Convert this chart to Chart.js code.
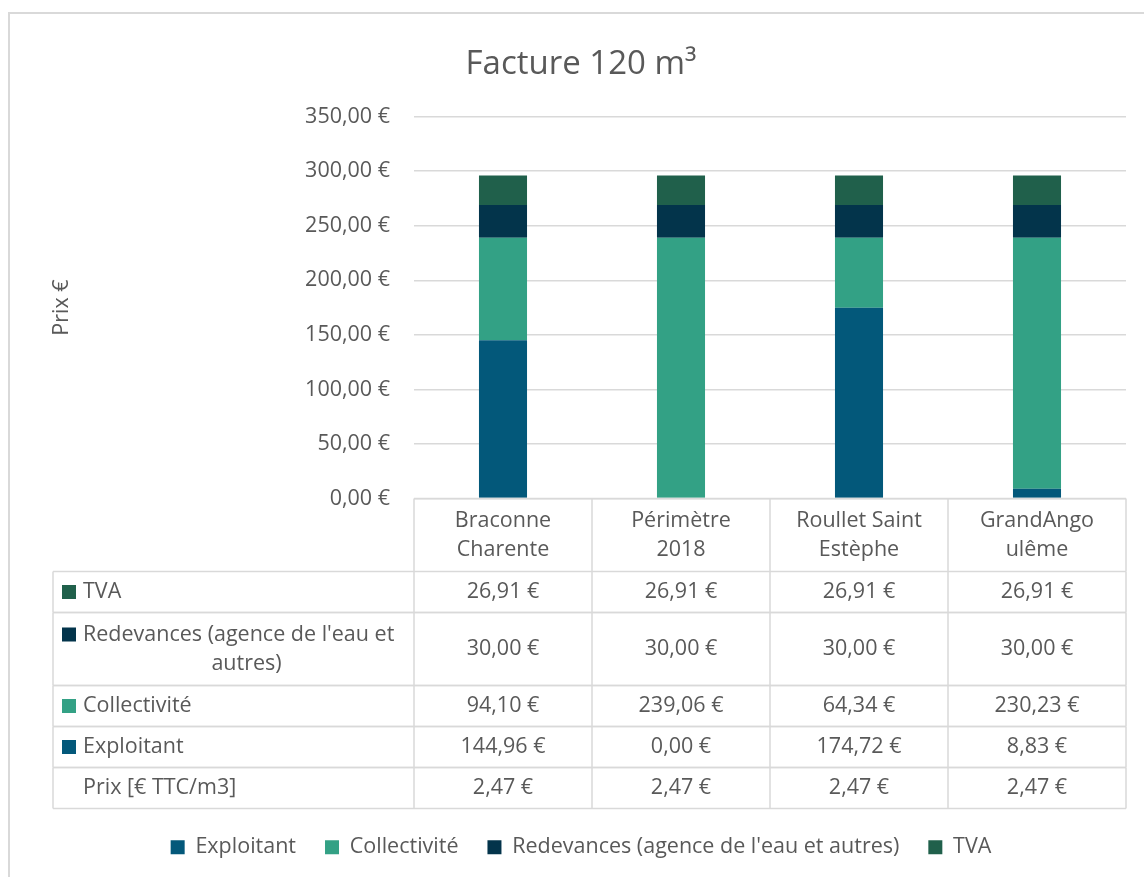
<!DOCTYPE html>
<html>
<head>
<meta charset="utf-8">
<script src="https://cdn.jsdelivr.net/npm/chart.js@4.4.0/dist/chart.umd.min.js"></script>
<style>
  html, body { margin: 0; padding: 0; background: #fff; }
  #wrap { width: 1144px; height: 877px; position: relative; }
</style>
</head>
<body>
<div id="wrap"><canvas id="chart"></canvas></div>
<script>
  // data
  const categories = [['Braconne', 'Charente'], ['Périmètre', '2018'], ['Roullet Saint', 'Estèphe'], ['GrandAngo', 'ulême']];
  const exploitant = [144.96, 0.00, 174.72, 8.83];
  const collectivite = [94.10, 239.06, 64.34, 230.23];
  const redevances = [30.00, 30.00, 30.00, 30.00];
  const tva = [26.91, 26.91, 26.91, 26.91];
  const prixM3 = [2.47, 2.47, 2.47, 2.47];
  const yMax = 350;
  const yStep = 50;

  const textColor = '#595959';
  const lineColor = '#d9d9d9';
  const fontFamily = "'Open Sans', 'Noto Sans', sans-serif";
  const fontSize = 21.5;

  function euro(v) {
    return v.toFixed(2).replace('.', ',') + ' €';
  }

  function wrapText(ctx, text, maxWidth) {
    const words = text.split(' ');
    const lines = [];
    let line = '';
    words.forEach(function(w) {
      const test = line ? line + ' ' + w : w;
      if (ctx.measureText(test).width > maxWidth && line) {
        lines.push(line);
        line = w;
      } else {
        line = test;
      }
    });
    lines.push(line);
    return lines;
  }

  // draws the frame and the data table under the plot
  const tablePlugin = {
    id: 'dataTable',
    beforeDraw(chart) {
      const ctx = chart.ctx;
      ctx.save();
      ctx.strokeStyle = lineColor;
      ctx.lineWidth = 2;
      ctx.beginPath();
      ctx.moveTo(9, chart.height + 5);
      ctx.lineTo(9, 13);
      ctx.lineTo(chart.width + 5, 13);
      ctx.stroke();
      ctx.restore();
    },
    afterDraw(chart) {
      const ctx = chart.ctx;
      const area = chart.chartArea;
      const x = chart.scales.x;
      const half = (x.getPixelForValue(1) - x.getPixelForValue(0)) / 2;
      const edges = categories.map(function(c, i) { return x.getPixelForValue(i) - half; });
      edges.push(x.getPixelForValue(categories.length - 1) + half);
      const tableLeft = 53;
      const textLeft = 83;
      const lineH = 32, pad = 9, textStep = 29;

      ctx.save();
      ctx.font = fontSize + 'px ' + fontFamily;
      ctx.fillStyle = textColor;
      ctx.textBaseline = 'middle';

      // header row with category names
      let top = area.bottom;
      let h = pad + lineH * 2;
      ctx.strokeStyle = lineColor;
      ctx.lineWidth = 1.5;
      ctx.beginPath();
      ctx.moveTo(edges[0], top);
      ctx.lineTo(edges[edges.length - 1], top);
      edges.forEach(function(e) {
        ctx.moveTo(e, top);
        ctx.lineTo(e, top + h);
      });
      ctx.stroke();
      ctx.textAlign = 'center';
      categories.forEach(function(lines, i) {
        const cx = x.getPixelForValue(i);
        const cy = top + h / 2;
        lines.forEach(function(l, k) {
          ctx.fillText(l, cx, cy + (k - (lines.length - 1) / 2) * textStep);
        });
      });
      top += h;

      // rows: series in reverse order, then the price per m3
      const rows = chart.data.datasets.slice().reverse().map(function(ds) {
        return { label: ds.label, color: ds.backgroundColor, values: ds.data };
      });
      rows.push({ label: 'Prix [€ TTC/m3]', color: null, values: prixM3 });

      const textWidth = area.left - 4 - textLeft;
      rows.forEach(function(row) {
        const lines = wrapText(ctx, row.label, textWidth);
        const rh = pad + lineH * lines.length;
        const cy = top + rh / 2;
        ctx.beginPath();
        ctx.moveTo(tableLeft, top);
        ctx.lineTo(edges[edges.length - 1], top);
        ctx.moveTo(tableLeft, top + rh);
        ctx.lineTo(edges[edges.length - 1], top + rh);
        ctx.moveTo(tableLeft, top);
        ctx.lineTo(tableLeft, top + rh);
        edges.forEach(function(e) {
          ctx.moveTo(e, top);
          ctx.lineTo(e, top + rh);
        });
        ctx.stroke();

        const firstY = cy - (lines.length - 1) / 2 * textStep;
        if (row.color) {
          ctx.fillStyle = row.color;
          ctx.fillRect(62, firstY - 7, 14, 14);
          ctx.fillStyle = textColor;
        }
        lines.forEach(function(l, k) {
          if (k > 0) {
            ctx.textAlign = 'center';
            ctx.fillText(l, textLeft + textWidth / 2, firstY + k * textStep);
          } else {
            ctx.textAlign = 'left';
            ctx.fillText(l, textLeft, firstY);
          }
        });
        ctx.textAlign = 'center';
        row.values.forEach(function(v, i) {
          ctx.fillText(euro(v), x.getPixelForValue(i), cy);
        });
        top += rh;
      });
      ctx.restore();
    }
  };

  const ctx = document.getElementById('chart');

  const graf = new Chart(ctx, {
    type: 'bar',
    data: {
      labels: categories,
      datasets: [
        { label: 'Exploitant', data: exploitant, backgroundColor: '#03587a' },
        { label: 'Collectivité', data: collectivite, backgroundColor: '#33a185' },
        { label: "Redevances (agence de l'eau et autres)", data: redevances, backgroundColor: '#03344b' },
        { label: 'TVA', data: tva, backgroundColor: '#20604b' }
      ]
    },
    options: {
      responsive: true,
      maintainAspectRatio: false,
      animation: false,
      layout: {
        padding: { left: 36, right: 18, top: 0, bottom: 9 }
      },
      datasets: {
        bar: { categoryPercentage: 1, barPercentage: 0.27 }
      },
      scales: {
        x: {
          stacked: true,
          grid: { display: false },
          border: { display: false },
          ticks: { display: false },
          afterFit: function(scale) { scale.height = 309; }
        },
        y: {
          stacked: true,
          min: 0,
          max: yMax,
          ticks: {
            stepSize: yStep,
            padding: 24,
            color: textColor,
            font: { family: fontFamily, size: fontSize },
            callback: function(v) { return euro(v); }
          },
          grid: { color: lineColor, lineWidth: 1.5, drawTicks: false },
          border: { display: false },
          title: {
            display: true,
            text: 'Prix €',
            color: textColor,
            font: { family: fontFamily, size: fontSize },
            padding: { top: 13 }
          },
          afterFit: function(scale) { scale.width = 378; }
        }
      },
      plugins: {
        title: {
          display: true,
          text: 'Facture 120 m³',
          color: textColor,
          font: { family: fontFamily, size: 33, weight: 'normal' },
          padding: { top: 45, bottom: 32 }
        },
        legend: {
          position: 'bottom',
          labels: {
            color: textColor,
            font: { family: fontFamily, size: fontSize },
            boxWidth: 14,
            boxHeight: 14,
            padding: 29
          }
        },
        tooltip: { enabled: false }
      }
    },
    plugins: [tablePlugin]
  });
</script>
</body>
</html>
